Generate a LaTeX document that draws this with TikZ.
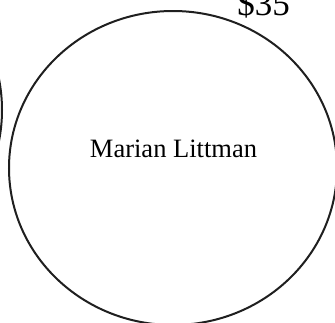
\documentclass[tikz,border=0pt]{standalone}
\usepackage{fontspec}
\setmainfont{Liberation Serif}
\usetikzlibrary{shapes.geometric}
\begin{document}
\begin{tikzpicture}[x=1pt,y=-1pt,
  bubble/.style={draw=black!88, line width=2pt, inner sep=0pt},
  persontext/.style={font=\fontsize{26.5}{30}\selectfont, inner sep=0pt, anchor=base},
  pricetext/.style={font=\fontsize{35}{40}\selectfont, inner sep=0pt, anchor=base}]
\useasboundingbox (0,0) rectangle (335,322);
\clip (0,0) rectangle (335,322);
\node[bubble, ellipse, minimum width=328pt, minimum height=314pt] (m) at (173,168) {};
\node[bubble, circle, minimum size=320pt] (l) at (-158,110) {};
\node[persontext] (t) at (173.5,157) {Marian Littman};
\node[pricetext] (p) at (263.5,15) {\$35};
\end{tikzpicture}
\end{document}
